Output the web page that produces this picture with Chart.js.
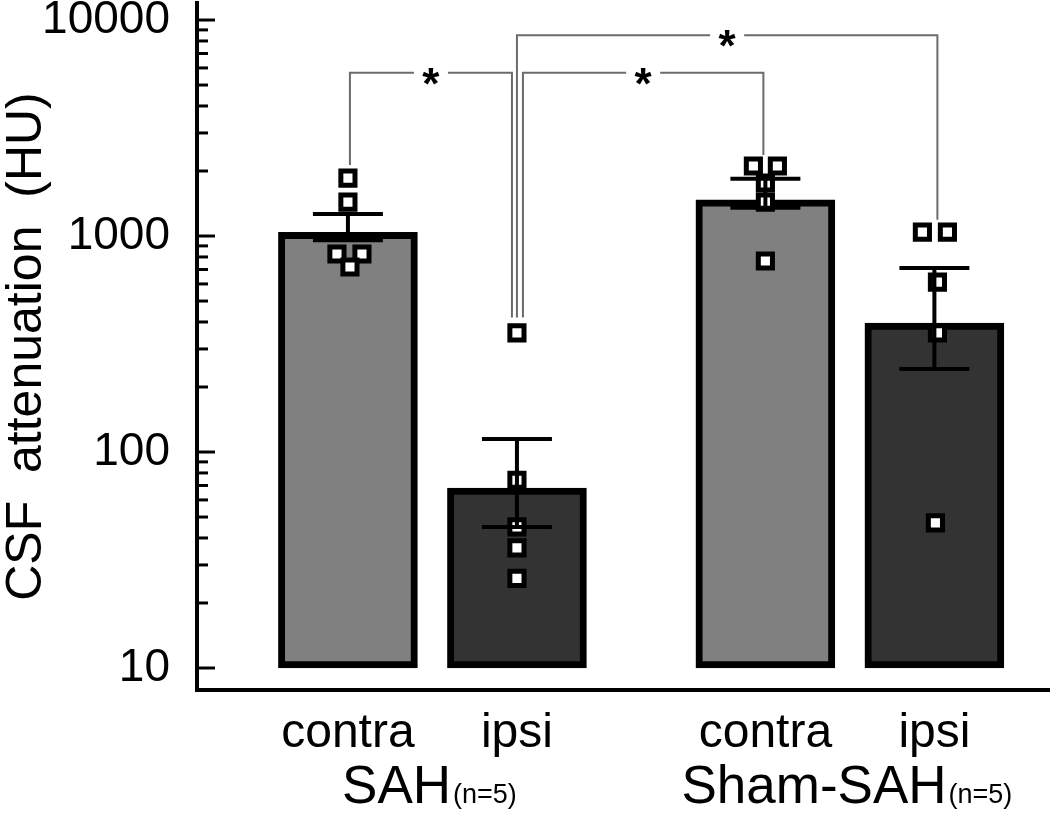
<!DOCTYPE html>
<html>
<head>
<meta charset="utf-8">
<title>CSF attenuation</title>
<script src="https://cdn.jsdelivr.net/npm/chart.js@4"></script>
<style>
  html, body { margin: 0; padding: 0; background: #fff; }
  #wrap { width: 1050px; height: 815px; }
</style>
</head>
<body>
<div id="wrap"><canvas id="csfChart" width="1050" height="815"></canvas></div>
<script>
// Values (HU, log axis)
const barLabels = ['contra', 'ipsi', 'contra', 'ipsi'];
const groupNames = ['SAH', 'Sham-SAH'];
const groupNotes = ['(n=5)', '(n=5)'];
const barMeans = [1040, 68, 1470, 395];
const errLow = [957, 45, 1350, 242];
const errHigh = [1265, 115, 1840, 711];
const animalValues = [
    [1855, 1436, 826, 826, 719],
    [356, 74, 45, 36, 26],
    [2110, 2110, 1760, 1436, 766],
    [1043, 1043, 612, 356, 47]
];
const majorTicks = [10, 100, 1000, 10000];
const minorSteps = [2, 3, 4, 5, 6, 7, 8, 9];
// significance brackets: bar indices, height of the top line and where each leg stops
const brackets = [
    { from: 0, to: 1, top: 5700, fromEnd: 2130, toEnd: 420, label: '*' },
    { from: 1, to: 3, top: 8500, fromEnd: 420, toEnd: 1190, label: '*' },
    { from: 1, to: 2, top: 5700, fromEnd: 420, toEnd: 2370, label: '*' }
];

// Layout (not data)
const xPos = [1, 2, 3.47, 4.47];           // bar slots, leaves a gap between groups
const jitter = [                            // horizontal spread of the squares, x units
    [0, 0, -0.065, 0.083, 0.012],
    [0, 0, 0, 0, 0],
    [-0.071, 0.071, 0, 0, 0],
    [-0.071, 0.077, 0.018, 0.018, 0.006]
];
const bracketDx = [[2, -5], [0, 3], [6, -2]]; // px nudges so legs don't overlap
const FONT = "'Liberation Sans', Arial, Helvetica, sans-serif";
const barFill = ['#808080', '#333333', '#808080', '#333333'];
const capHalf = 35;

Chart.defaults.font.family = FONT;
Chart.defaults.color = '#000';

const yTickValues = [];
majorTicks.forEach((m, i) => {
    yTickValues.push(m);
    if (i < majorTicks.length - 1) minorSteps.forEach(s => yTickValues.push(m * s));
});

const scatterData = [];
animalValues.forEach((vals, i) => {
    vals.forEach((v, j) => scatterData.push({ x: xPos[i] + jitter[i][j], y: v }));
});

// keep the plot area fixed: no automatic room for overhanging labels
function noPadding(axis) {
    axis.paddingTop = 0;
    axis.paddingBottom = 0;
    axis.paddingLeft = 0;
    axis.paddingRight = 0;
}

const overlayPlugin = {
    id: 'overlay',
    afterDatasetsDraw(chart) {
        const { ctx, scales: { x, y } } = chart;
        // error bars on top of bars and squares
        ctx.save();
        ctx.strokeStyle = '#000';
        ctx.lineWidth = 4;
        barMeans.forEach((m, i) => {
            const px = x.getPixelForValue(xPos[i]);
            const hi = y.getPixelForValue(errHigh[i]);
            const lo = y.getPixelForValue(errLow[i]);
            ctx.beginPath();
            ctx.moveTo(px, hi); ctx.lineTo(px, lo);
            ctx.moveTo(px - capHalf, hi); ctx.lineTo(px + capHalf, hi);
            ctx.moveTo(px - capHalf, lo); ctx.lineTo(px + capHalf, lo);
            ctx.stroke();
        });
        ctx.restore();
    },
    afterDraw(chart) {
        const { ctx, chartArea, scales: { x, y } } = chart;
        ctx.save();

        // inward tick marks on the log axis
        ctx.strokeStyle = '#000';
        ctx.lineWidth = 3;
        yTickValues.forEach(v => {
            const py = y.getPixelForValue(v);
            const len = majorTicks.includes(v) ? 18 : 11;
            ctx.beginPath();
            ctx.moveTo(chartArea.left, py);
            ctx.lineTo(chartArea.left + len, py);
            ctx.stroke();
        });

        // significance brackets
        ctx.strokeStyle = '#6b6b6b';
        ctx.lineWidth = 2;
        ctx.fillStyle = '#000';
        ctx.font = 'bold 44px ' + FONT;
        ctx.textAlign = 'center';
        ctx.textBaseline = 'alphabetic';
        brackets.forEach((b, k) => {
            const x1 = x.getPixelForValue(xPos[b.from]) + bracketDx[k][0];
            const x2 = x.getPixelForValue(xPos[b.to]) + bracketDx[k][1];
            const yt = y.getPixelForValue(b.top);
            const y1 = y.getPixelForValue(b.fromEnd);
            const y2 = y.getPixelForValue(b.toEnd);
            const mid = (x1 + x2) / 2;
            const gap = 17;
            ctx.beginPath();
            ctx.moveTo(x1, y1); ctx.lineTo(x1, yt); ctx.lineTo(mid - gap, yt);
            ctx.moveTo(mid + gap, yt); ctx.lineTo(x2, yt); ctx.lineTo(x2, y2);
            ctx.stroke();
            ctx.fillText(b.label, mid, yt + 26);
        });

        // group labels under the category labels
        ctx.textAlign = 'left';
        groupNames.forEach((name, g) => {
            const cx = (x.getPixelForValue(xPos[g * 2]) + x.getPixelForValue(xPos[g * 2 + 1])) / 2;
            ctx.font = '53px ' + FONT;
            const w1 = ctx.measureText(name).width;
            ctx.font = '27px ' + FONT;
            const w2 = ctx.measureText(groupNotes[g]).width;
            const start = cx - (w1 + w2 + 2) / 2 - 3;
            ctx.font = '53px ' + FONT;
            ctx.fillText(name, start, 803);
            ctx.font = '27px ' + FONT;
            ctx.fillText(groupNotes[g], start + w1 + 2, 803);
        });
        ctx.restore();
    }
};

new Chart(document.getElementById('csfChart'), {
    type: 'bar',
    data: {
        datasets: [
            {
                type: 'scatter',
                data: scatterData,
                pointStyle: 'rect',
                pointRadius: 10,
                pointBorderWidth: 5,
                pointBackgroundColor: '#fff',
                pointBorderColor: '#000',
                clip: false,
                order: 0
            },
            {
                type: 'bar',
                data: barMeans.map((m, i) => ({ x: xPos[i], y: [10, m] })),
                backgroundColor: barFill,
                borderColor: '#000',
                borderWidth: 7,
                borderSkipped: false,
                barThickness: 139,
                order: 1
            }
        ]
    },
    options: {
        responsive: false,
        devicePixelRatio: 1,
        animation: false,
        layout: { autoPadding: false, padding: { top: 3, right: 0, left: 0, bottom: 0 } },
        plugins: {
            legend: { display: false },
            tooltip: { enabled: false }
        },
        scales: {
            x: {
                type: 'linear',
                offset: false,
                min: 0.107,
                max: 5.154,
                grid: { display: false, drawTicks: false },
                border: { display: true, color: '#000', width: 4 },
                afterBuildTicks: axis => { axis.ticks = xPos.map(v => ({ value: v })); },
                afterFit: axis => { axis.height = 125; noPadding(axis); },
                ticks: {
                    autoSkip: false,
                    maxRotation: 0,
                    padding: 15,
                    font: { size: 48 },
                    callback: (v, i) => barLabels[i]
                }
            },
            y: {
                type: 'logarithmic',
                min: 7.91,
                max: 11990,
                grid: { display: false, drawTicks: false },
                border: { display: true, color: '#000', width: 4 },
                afterBuildTicks: axis => { axis.ticks = yTickValues.map(v => ({ value: v })); },
                afterFit: axis => { axis.width = 197; noPadding(axis); },
                ticks: {
                    autoSkip: false,
                    padding: 27,
                    font: { size: 46 },
                    callback: v => majorTicks.includes(v) ? String(v) : ''
                },
                title: {
                    display: true,
                    text: 'CSF  attenuation  (HU)',
                    font: { size: 50, lineHeight: 1 },
                    padding: { top: 2, bottom: 0 }
                }
            }
        }
    },
    plugins: [overlayPlugin]
});
</script>
</body>
</html>
